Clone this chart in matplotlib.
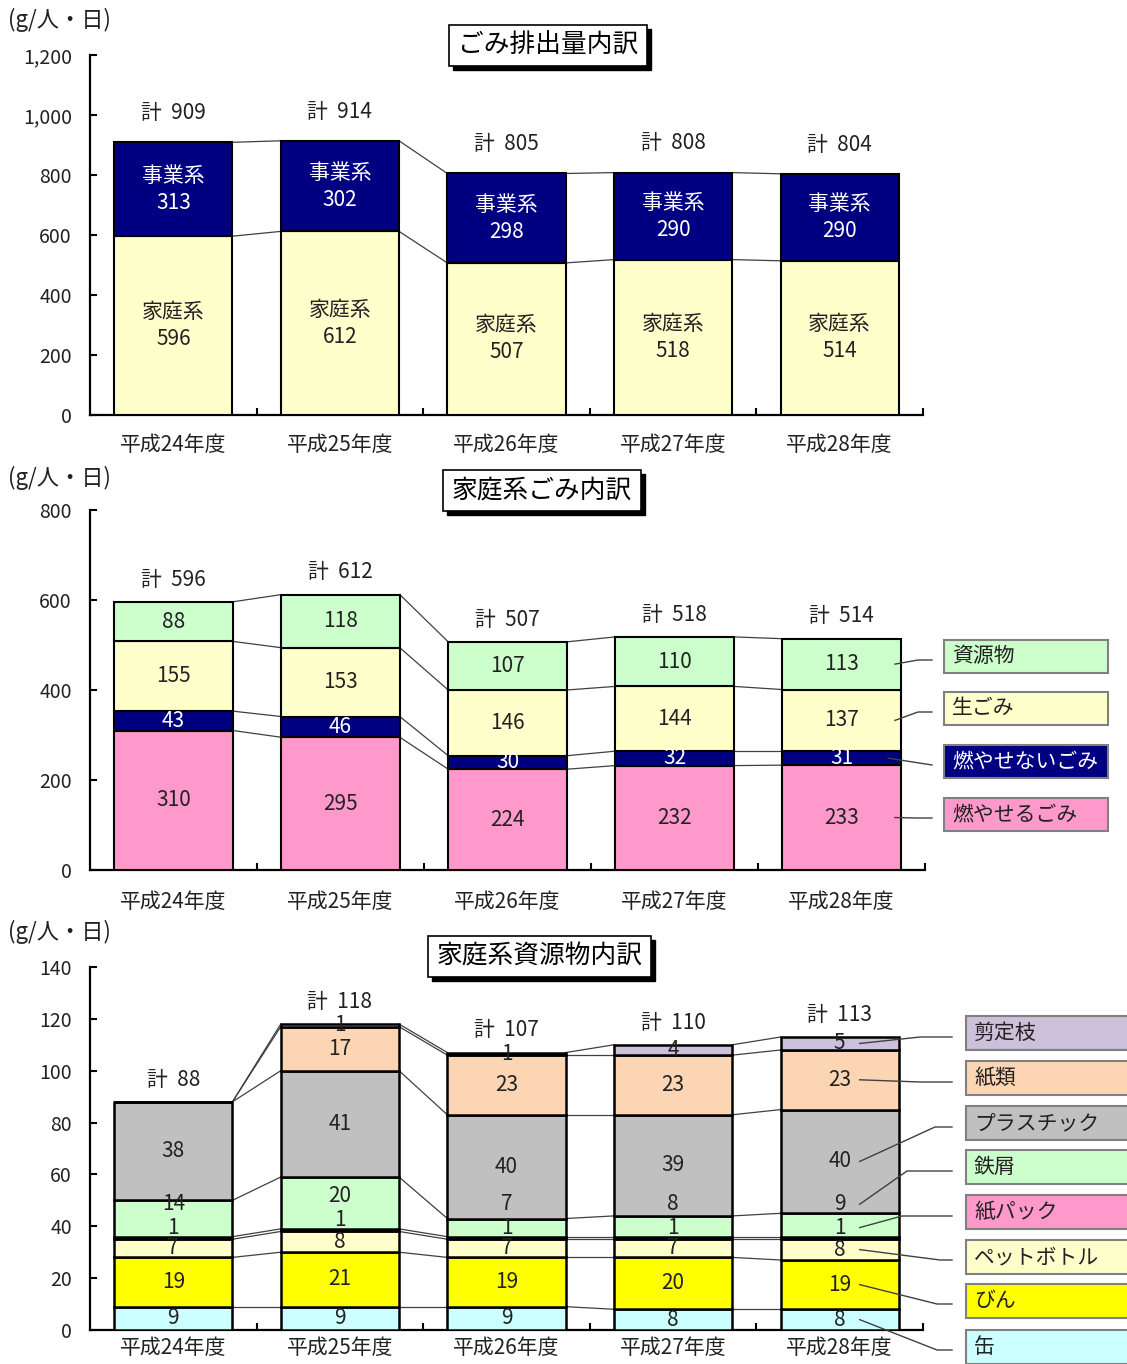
import numpy as np
import matplotlib
matplotlib.use('Agg')
import matplotlib.pyplot as plt
from matplotlib.patches import Rectangle
from matplotlib.lines import Line2D
from matplotlib.ticker import MultipleLocator, FuncFormatter

plt.rcParams['font.family'] = ['Noto Sans CJK JP', 'DejaVu Sans']

W, H = 1127, 1364

years = ['平成24年度', '平成25年度', '平成26年度', '平成27年度', '平成28年度']

# ごみ排出量内訳
katei = [596, 612, 507, 518, 514]
jigyo = [313, 302, 298, 290, 290]

# 家庭系ごみ内訳 (bottom -> top)
moyaseru = [310, 295, 224, 232, 233]
moyasenai = [43, 46, 30, 32, 31]
namagomi = [155, 153, 146, 144, 137]
shigen = [88, 118, 107, 110, 113]
mid_names = ['燃やせるごみ', '燃やせないごみ', '生ごみ', '資源物']

# 家庭系資源物内訳 (bottom -> top)
kan = [9, 9, 9, 8, 8]
bin_ = [19, 21, 19, 20, 19]
pet = [7, 8, 7, 7, 8]
kamipack = [1, 1, 1, 1, 1]
tetsu = [14, 20, 7, 8, 9]
plastic = [38, 41, 40, 39, 40]
kamirui = [0, 17, 23, 23, 23]
sentei = [0, 1, 1, 4, 5]
bot_names = ['缶', 'びん', 'ペットボトル', '紙パック', '鉄屑', 'プラスチック', '紙類', '剪定枝']

NAVY = '#000080'
LYEL = '#FFFFCC'
PINK = '#FF99CC'
LGRN = '#CCFFCC'
GRAY = '#C0C0C0'
PEACH = '#FCD5B4'
YEL = '#FFFF00'
CYAN = '#CCFFFF'
LAV = '#CCC0DA'

BW = 0.71
TXT = '#222222'

fig = plt.figure(figsize=(W / 100, H / 100), dpi=100)


def fpx(x, y):
    return x / W, 1 - y / H


def to_fig(ax, x, y):
    d = ax.transData.transform((x, y))
    return fig.transFigure.inverted().transform(d)


def make_ax(x0, x1, ytop, ybot, ymax, step, comma=False, xpad=13):
    ax = fig.add_axes([x0 / W, 1 - ybot / H, (x1 - x0) / W, (ybot - ytop) / H])
    ax.set_xlim(-0.5, 4.5)
    ax.set_ylim(0, ymax)
    ax.yaxis.set_major_locator(MultipleLocator(step))
    if comma:
        ax.yaxis.set_major_formatter(FuncFormatter(lambda v, p: '{:,}'.format(int(v))))
    for s in ['top', 'right']:
        ax.spines[s].set_visible(False)
    for s in ['left', 'bottom']:
        ax.spines[s].set_linewidth(1.6)
    ax.set_xticks(np.arange(5))
    ax.set_xticklabels(years, fontsize=15, color=TXT)
    ax.set_xticks(np.arange(0.5, 5, 1), minor=True)
    ax.tick_params(axis='x', which='major', length=0, pad=xpad)
    ax.tick_params(axis='x', which='minor', direction='in', length=5, width=1.5)
    ax.tick_params(axis='y', direction='in', length=5, width=1.5, labelsize=14,
                   pad=13, labelcolor=TXT)
    return ax


def draw_stack(ax, series, colors, lw=1.5, tot_dy=16):
    x = np.arange(5)
    bottom = np.zeros(5)
    bounds = []
    for vals, col in zip(series, colors):
        vals = np.array(vals, float)
        ax.bar(x, vals, bottom=bottom, width=BW, color=col, edgecolor='black',
               linewidth=lw, zorder=3)
        bounds.append((bottom.copy(), bottom + vals))
        bottom = bottom + vals
    for lo, hi in bounds:
        for i in range(4):
            ax.plot([x[i] + BW / 2, x[i + 1] - BW / 2], [hi[i], hi[i + 1]],
                    color='#404040', lw=0.9, zorder=2)
    for i in range(5):
        ax.annotate('計  {}'.format(int(bottom[i])), (x[i], bottom[i]),
                    xytext=(0, tot_dy), textcoords='offset points', ha='center',
                    va='center', fontsize=15, color=TXT)
    return bounds


def title_box(text, x0, y0, x1, y1):
    sh = 4
    fig.add_artist(Rectangle(fpx(x0 + sh, y1 + sh), (x1 - x0) / W, (y1 - y0) / H,
                             transform=fig.transFigure, facecolor='black',
                             edgecolor='black', lw=1))
    fig.add_artist(Rectangle(fpx(x0, y1), (x1 - x0) / W, (y1 - y0) / H,
                             transform=fig.transFigure, facecolor='white',
                             edgecolor='black', lw=1.2))
    cx, cy = fpx((x0 + x1) / 2, (y0 + y1) / 2)
    fig.text(cx, cy, text, ha='center', va='center', fontsize=18.5, color='black')


def legend_box(text, x0, yc, x1, h, fc, tc='black'):
    fig.add_artist(Rectangle(fpx(x0, yc + h / 2), (x1 - x0) / W, h / H,
                             transform=fig.transFigure, facecolor=fc,
                             edgecolor='#808080', lw=1.5))
    tx, ty = fpx(x0 + 8, yc)
    fig.text(tx, ty, text, ha='left', va='center', fontsize=15, color=tc)


def leader(ax, xd, yd, pts):
    sx, sy = to_fig(ax, xd, yd)
    xs = [sx] + [p[0] / W for p in pts]
    ys = [sy] + [1 - p[1] / H for p in pts]
    fig.add_artist(Line2D(xs, ys, transform=fig.transFigure, color='#404040', lw=1))


def unit_label(y):
    fig.text(*fpx(8, y), '(g/人・日)', ha='left', va='center', fontsize=16, color=TXT)


# ---------------- top panel ----------------
ax1 = make_ax(90, 923, 55, 415, 1200, 200, comma=True, xpad=14)
b1 = draw_stack(ax1, [katei, jigyo], [LYEL, NAVY], tot_dy=21)
for i in range(5):
    lo, hi = b1[0]
    ax1.text(i, (lo[i] + hi[i]) / 2, '家庭系\n{}'.format(katei[i]), ha='center',
             va='center', fontsize=15, color=TXT, linespacing=1.3, zorder=4)
    lo, hi = b1[1]
    ax1.text(i, (lo[i] + hi[i]) / 2, '事業系\n{}'.format(jigyo[i]), ha='center',
             va='center', fontsize=15, color='white', linespacing=1.3, zorder=4)
unit_label(20)
title_box('ごみ排出量内訳', 449, 25, 647, 66)

# ---------------- middle panel ----------------
ax2 = make_ax(90, 925, 510, 870, 800, 200, xpad=15)
mid_series = [moyaseru, moyasenai, namagomi, shigen]
mid_colors = [PINK, NAVY, LYEL, LGRN]
b2 = draw_stack(ax2, mid_series, mid_colors, tot_dy=16)
for k, vals in enumerate(mid_series):
    lo, hi = b2[k]
    tc = 'white' if mid_colors[k] == NAVY else TXT
    for i in range(5):
        ax2.text(i, (lo[i] + hi[i]) / 2, str(vals[i]), ha='center', va='center',
                 fontsize=15, color=tc, zorder=4)
unit_label(478)
title_box('家庭系ごみ内訳', 443, 470, 641, 511)

mid_box_y = [814, 761, 708, 656]
for k in range(4):
    fc = mid_colors[k]
    tc = 'white' if fc == NAVY else TXT
    legend_box(mid_names[k], 944, mid_box_y[k], 1108, 33, fc, tc)
    lo, hi = b2[k]
    yc = (lo[4] + hi[4]) / 2
    if k == 1:
        leader(ax2, 4.28, yc, [(932, mid_box_y[k] + 4)])
    else:
        leader(ax2, 4.32, yc, [(918, mid_box_y[k] + 4), (932, mid_box_y[k] + 4)])

# ---------------- bottom panel ----------------
ax3 = make_ax(90, 923, 967, 1330, 140, 20, xpad=5)
bot_series = [kan, bin_, pet, kamipack, tetsu, plastic, kamirui, sentei]
bot_colors = [CYAN, YEL, LYEL, PINK, LGRN, GRAY, PEACH, LAV]
b3 = draw_stack(ax3, bot_series, bot_colors, lw=1.8, tot_dy=16)
lab_pos = []
for k, vals in enumerate(bot_series):
    lo, hi = b3[k]
    row = []
    for i in range(5):
        yc = (lo[i] + hi[i]) / 2
        # thin 紙パック / 鉄屑 slices: labels pushed up so both stay readable
        if k == 3:
            yc = lo[i] + 4.5
        elif k == 4:
            yc = max(yc + 2, lo[i] + 12.5)
        row.append(yc)
        if vals[i] == 0:
            continue
        ax3.text(i, yc, str(vals[i]), ha='center', va='center',
                 fontsize=15, color=TXT, zorder=4)
    lab_pos.append(row)
unit_label(932)
title_box('家庭系資源物内訳', 428, 936, 651, 977)

bot_box_y = [1347, 1301, 1257, 1212, 1167, 1123, 1078, 1033]
elbow_x = [937, 937, 940, 902, 907, 935, 920, 920]
for k in range(8):
    legend_box(bot_names[k], 966, bot_box_y[k], 1140, 34, bot_colors[k], TXT)
    ey = bot_box_y[k] + (3 if k in (0, 1, 2) else 4)
    leader(ax3, 4.12, lab_pos[k][4], [(elbow_x[k], ey), (952, ey)])

fig.savefig('out.png', dpi=100)
